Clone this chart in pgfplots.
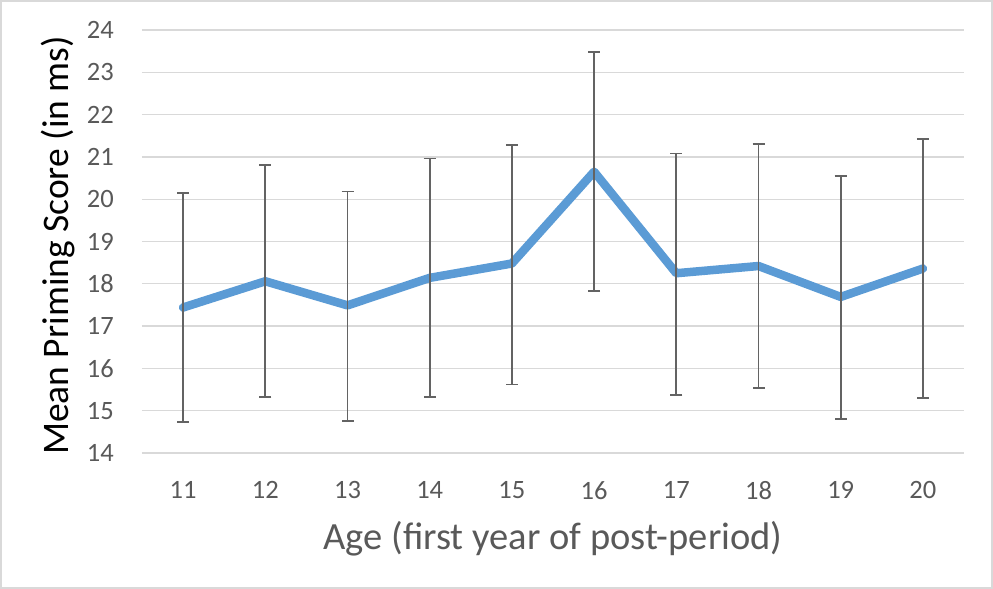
\documentclass[border=0pt]{standalone}
\usepackage{fontspec}
\setmainfont{Carlito}
\usepackage{pgfplots}
\usepackage{pgfplotstable}
\pgfplotsset{compat=1.18}
\definecolor{linecol}{HTML}{5B9BD5}
\definecolor{txtgray}{HTML}{595959}
\definecolor{gridgray}{HTML}{D9D9D9}
\definecolor{errgray}{HTML}{636363}
\definecolor{framegray}{HTML}{D9D9D9}
\pgfplotstableread{
x y ep em
11 17.44 2.70 2.71
12 18.06 2.74 2.74
13 17.49 2.69 2.73
14 18.14 2.82 2.82
15 18.48 2.80 2.86
16 20.65 2.83 2.82
17 18.25 2.83 2.87
18 18.42 2.88 2.88
19 17.69 2.85 2.88
20 18.36 3.06 3.06
}\datatable
\begin{document}
\begin{tikzpicture}
\draw[framegray, line width=2bp] (-141bp,-135bp) rectangle (850bp,452bp);
\begin{axis}[
  at={(0,0)}, anchor=south west,
  scale only axis,
  width=822bp, height=423bp,
  xmin=10.5, xmax=20.5,
  ymin=14, ymax=24,
  xtick={11,...,20},
  ytick={14,...,24},
  axis line style={draw=none},
  major tick length=0pt,
  ymajorgrids,
  grid style={gridgray, line width=1.3bp},
  /pgf/number format/assume math mode=true,
  tick label style={font=\fontsize{26.5bp}{30bp}\selectfont, text=txtgray},
  yticklabel style={anchor=east, inner sep=0pt, xshift=-28bp},
  xticklabel style={anchor=north, inner sep=0pt, yshift=-28bp},
  xlabel={Age (first year of post-period)},
  ylabel={Mean Priming Score (in ms)},
  xlabel style={font=\fontsize{38.5bp}{42bp}\selectfont, text=txtgray, at={(axis description cs:0.5,-0.2293)}, anchor=base, inner sep=0pt},
  ylabel style={font=\fontsize{37.5bp}{42bp}\selectfont, text=black, at={(axis description cs:-0.0815,0.4905)}, anchor=south, inner sep=0pt, rotate=0},
  clip=false,
]
\addplot[linecol, line width=8.5bp, line join=round, line cap=round, mark=none] table[x=x, y=y] {\datatable};
\addplot[draw=none, mark=none,
  error bars/.cd, y dir=both, y explicit,
  error bar style={draw=errgray, line width=1.8bp},
  error mark options={rotate=90, mark size=6bp, draw=errgray, line width=1.8bp}]
  table[x=x, y=y, y error plus=ep, y error minus=em] {\datatable};
\end{axis}
\end{tikzpicture}
\end{document}
